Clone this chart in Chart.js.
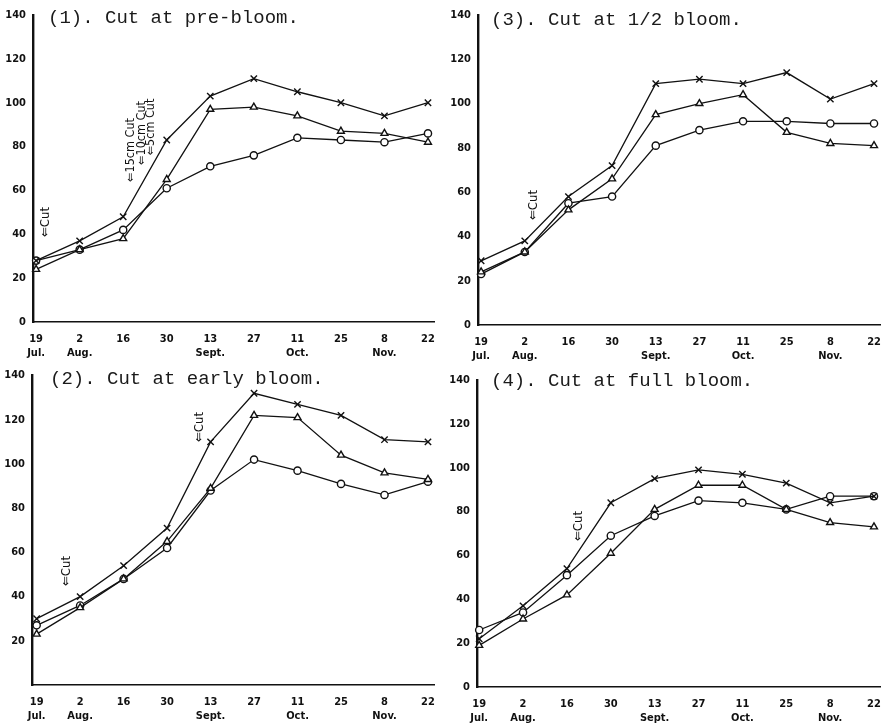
<!DOCTYPE html>
<html>
<head>
<meta charset="utf-8">
<script src="https://cdn.jsdelivr.net/npm/chart.js@4.4.1/dist/chart.umd.min.js"></script>
<style>
html,body{margin:0;padding:0;background:#fff;}
#wrap{position:relative;width:892px;height:725px;background:#fff;}
#wrap canvas{position:absolute;}
</style>
</head>
<body>
<div id="wrap">
  <canvas id="c1" width="446" height="362" style="left:0;top:0"></canvas>
  <canvas id="c3" width="446" height="362" style="left:446px;top:0"></canvas>
  <canvas id="c2" width="446" height="363" style="left:0;top:362px"></canvas>
  <canvas id="c4" width="446" height="363" style="left:446px;top:362px"></canvas>
</div>
<script>
// ---- data ----
const dayOffsets = [0, 14, 28, 42, 56, 70, 84, 98, 112, 126];
const dateLabels = ['19', '2', '16', '30', '13', '27', '11', '25', '8', '22'];
const monthLabels = ['Jul.', 'Aug.', '', '', 'Sept.', '', 'Oct.', '', 'Nov.', ''];
const yTickValues = [0, 20, 40, 60, 80, 100, 120, 140];

const panelTitles = ['(1). Cut at pre-bloom.', '(2). Cut at early bloom.', '(3). Cut at 1/2 bloom.', '(4). Cut at full bloom.'];

// (1) pre-bloom
const preBloomCross    = [28, 37, 48, 83, 103, 111, 105, 100, 94, 100];
const preBloomTriangle = [24, 33, 38, 65, 97, 98, 94, 87, 86, 82];
const preBloomCircle   = [28, 33, 42, 61, 71, 76, 84, 83, 82, 86];

// (2) early bloom
const earlyBloomCross    = [30, 40, 54, 71, 110, 132, 127, 122, 111, 110];
const earlyBloomTriangle = [23, 35, 48, 65, 89, 122, 121, 104, 96, 93];
const earlyBloomCircle   = [27, 36, 48, 62, 88, 102, 97, 91, 86, 92];

// (3) 1/2 bloom
const halfBloomCross    = [29, 38, 58, 72, 109, 111, 109, 114, 102, 109];
const halfBloomTriangle = [24, 33, 52, 66, 95, 100, 104, 87, 82, 81];
const halfBloomCircle   = [23, 33, 55, 58, 81, 88, 92, 92, 91, 91];

// (4) full bloom
const fullBloomCross    = [22, 37, 54, 84, 95, 99, 97, 93, 84, 87];
const fullBloomTriangle = [19, 31, 42, 61, 81, 92, 92, 81, 75, 73];
const fullBloomCircle   = [26, 34, 51, 69, 78, 85, 84, 81, 87, 87];

// annotation texts
const cutNotes1 = ['⇐Cut', '⇐15cm Cut', '⇐10cm Cut', '⇐5cm Cut'];
const cutNotes2 = ['⇐Cut', '⇐Cut'];
const cutNotes3 = ['⇐Cut'];
const cutNotes4 = ['⇐Cut'];

// ---- layout (positions only) ----
const panels = [
  {id:'c1', title:panelTitles[0], series:[preBloomCross, preBloomTriangle, preBloomCircle],
   axisLeft:33, axisTop:15, axisBottom:322, axisRight:437, xMin:-1, showZero:true,
   titlePos:[48,23], notes:cutNotes1, notePos:[[46,222,13],[131,150,12.5],[142,133,12.5],[151,127,12.5]]},
  {id:'c2', title:panelTitles[1], series:[earlyBloomCross, earlyBloomTriangle, earlyBloomCircle],
   axisLeft:32, axisTop:10, axisBottom:323, axisRight:437, xMin:-1.5, showZero:false,
   titlePos:[50,22], notes:cutNotes2, notePos:[[67,209,13],[200,65,13]]},
  {id:'c3', title:panelTitles[2], series:[halfBloomCross, halfBloomTriangle, halfBloomCircle],
   axisLeft:32, axisTop:15, axisBottom:325, axisRight:440, xMin:-1, showZero:true,
   titlePos:[45,25], notes:cutNotes3, notePos:[[88,205,13]]},
  {id:'c4', title:panelTitles[3], series:[fullBloomCross, fullBloomTriangle, fullBloomCircle],
   axisLeft:31, axisTop:18, axisBottom:325, axisRight:437, xMin:-0.7, showZero:true,
   titlePos:[45,24], notes:cutNotes4, notePos:[[133,164,13]]}
];

const ink = '#111';
const styles = [
  {pointStyle:'crossRot', pointRadius:4.5, label:'×'},
  {pointStyle:'triangle', pointRadius:4, label:'△'},
  {pointStyle:'circle', pointRadius:3.6, label:'○'}
];

panels.forEach(p => {
  const canvas = document.getElementById(p.id);
  const W = canvas.width, H = canvas.height;
  const textPlugin = {
    id: 'panelText_' + p.id,
    afterDraw(chart) {
      const ctx = chart.ctx;
      ctx.save();
      ctx.fillStyle = '#1a1a1a';
      ctx.font = '19px "Liberation Mono", "DejaVu Sans Mono", monospace';
      ctx.textAlign = 'left';
      ctx.textBaseline = 'alphabetic';
      ctx.fillText(p.title, p.titlePos[0], p.titlePos[1]);
      ctx.fillStyle = ink;
      p.notes.forEach((t, i) => {
        const [x, y, fs] = p.notePos[i];
        ctx.save();
        ctx.translate(x, y);
        ctx.rotate(-Math.PI / 2);
        ctx.font = fs + 'px "DejaVu Sans Condensed", "DejaVu Sans", sans-serif';
        ctx.textAlign = 'center';
        ctx.textBaseline = 'middle';
        ctx.fillText(t, 0, 0);
        ctx.restore();
      });
      ctx.restore();
    }
  };
  new Chart(canvas, {
    type: 'line',
    data: {
      datasets: p.series.map((vals, si) => ({
        label: styles[si].label,
        data: vals.map((v, i) => ({x: dayOffsets[i], y: v})),
        borderColor: ink,
        borderWidth: 1.3,
        pointStyle: styles[si].pointStyle,
        pointRadius: styles[si].pointRadius,
        pointBorderWidth: 1.4,
        pointBorderColor: ink,
        pointBackgroundColor: '#fff',
        tension: 0,
        fill: false,
        clip: false
      }))
    },
    options: {
      responsive: false,
      animation: false,
      events: [],
      layout: {padding: {left: 0, top: p.axisTop, right: W - p.axisRight, bottom: 0}},
      plugins: {legend: {display: false}, tooltip: {enabled: false}, title: {display: false}},
      scales: {
        x: {
          type: 'linear',
          min: p.xMin,
          max: 128,
          afterBuildTicks: axis => { axis.ticks = dayOffsets.map(v => ({value: v})); },
          afterFit: s => { s.height = H - p.axisBottom; },
          grid: {display: false, drawTicks: false},
          border: {display: true, color: ink, width: 1.6},
          ticks: {
            autoSkip: false, maxRotation: 0, minRotation: 0, padding: 11,
            color: ink,
            font: {family: '"DejaVu Sans Condensed", "DejaVu Sans", sans-serif', size: 11, weight: 'bold', lineHeight: 1.2},
            callback: (v, i) => monthLabels[i] ? [dateLabels[i], monthLabels[i]] : dateLabels[i]
          }
        },
        y: {
          type: 'linear',
          min: 0,
          max: 140,
          afterBuildTicks: axis => { axis.ticks = yTickValues.map(v => ({value: v})); },
          afterFit: s => { s.width = p.axisLeft; },
          grid: {display: false, drawTicks: false},
          border: {display: true, color: ink, width: 2.4},
          ticks: {
            padding: 7,
            color: ink,
            font: {family: '"DejaVu Sans Condensed", "DejaVu Sans", sans-serif', size: 11, weight: 'bold'},
            callback: v => (v === 0 && !p.showZero) ? '' : String(v)
          }
        }
      }
    },
    plugins: [textPlugin]
  });
});
</script>
</body>
</html>
